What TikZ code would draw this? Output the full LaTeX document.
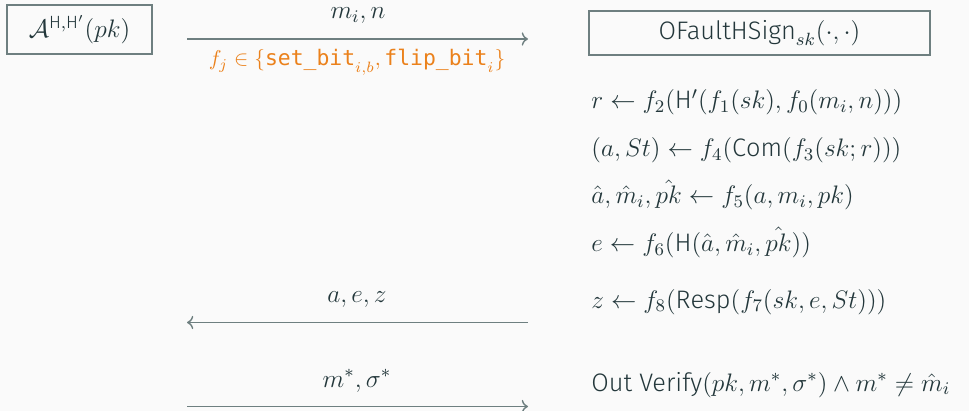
\RequirePackage{fix-cm}
\documentclass[tikz,border=0pt]{standalone}
\usepackage{amsmath,amssymb}
\usepackage{fontspec}
\setsansfont{Fira Sans Light}
\setmonofont{DejaVu Sans Mono}
\setmathsf{Fira Sans Light}
\usetikzlibrary{arrows.meta,positioning}

\definecolor{mDarkTeal}{HTML}{23373B}
\definecolor{mOrange}{HTML}{EB811B}
\definecolor{mBg}{HTML}{FAFAFA}
\definecolor{mLine}{HTML}{6E7F80}

\begin{document}
\begin{tikzpicture}[
  x=0.5pt, y=-0.5pt,
  font=\fontsize{12.66}{15}\selectfont, text=mDarkTeal,
  party/.style={draw=mLine, line width=0.7pt, inner sep=0pt},
  msg/.style={->, draw=mLine, line width=0.7pt},
  lbl/.style={anchor=base, inner sep=0pt},
  flt/.style={lbl, text=mOrange, font=\fontsize{10.7}{13}\selectfont},
  stmt/.style={anchor=base west, inner sep=0pt}
]
\fill[mBg] (0,0) rectangle (969,411);
\useasboundingbox (0,0) rectangle (969,411);

% the two parties
\node[party, minimum width=72.5pt, minimum height=24.5pt] (adv) at (79.5,29.5)
  {$\mathcal{A}^{\mathsf{H},\mathsf{H}'}(pk)$};
\node[party, minimum width=170.5pt, minimum height=22pt] (orc) at (759.5,33)
  {$\textsf{OFaultHSign}_{sk}(\cdot,\cdot)$};

% oracle computation
\node[stmt] (r) at (591,109) {$r \leftarrow f_2(\mathsf{H}'(f_1(sk), f_0(m_i, n)))$};
\node[stmt] (com) at (591,156.5) {$(a, St) \leftarrow f_4(\mathsf{Com}(f_3(sk;r)))$};
\node[stmt] (hat) at (591,204) {$\hat{a}, \hat{m}_i, \hat{pk} \leftarrow f_5(a, m_i, pk)$};
\node[stmt] (ch) at (591,251.5) {$e \leftarrow f_6(\mathsf{H}(\hat{a}, \hat{m}_i, \hat{pk}))$};
\node[stmt] (resp) at (591,308) {$z \leftarrow f_8(\mathsf{Resp}(f_7(sk, e, St)))$};
\node[stmt] (out) at (591,391) {\textsf{Out Verify}$(pk, m^*, \sigma^*) \land m^* \neq \hat{m}_i$};

% messages
\coordinate (q1) at (187,39);  \coordinate (q2) at (528,39);
\coordinate (a1) at (187,322.5); \coordinate (a2) at (528,322.5);
\coordinate (f1) at (187,406.5); \coordinate (f2) at (528,406.5);
\draw[msg] (q1) -- (q2);
\draw[msg] (a2) -- (a1);
\draw[msg] (f1) -- (f2);
\node[lbl] (qlbl) at (358,18.5) {$m_i, n$};
\node[flt] (flbl) at (357,66)
  {$f_j \in \{\texttt{set\_bit}_{i,b}, \texttt{flip\_bit}_i\}$};
\node[lbl] (albl) at (357,302.5) {$a, e, z$};
\node[lbl] (slbl) at (357,387) {$m^*, \sigma^*$};
\end{tikzpicture}
\end{document}
